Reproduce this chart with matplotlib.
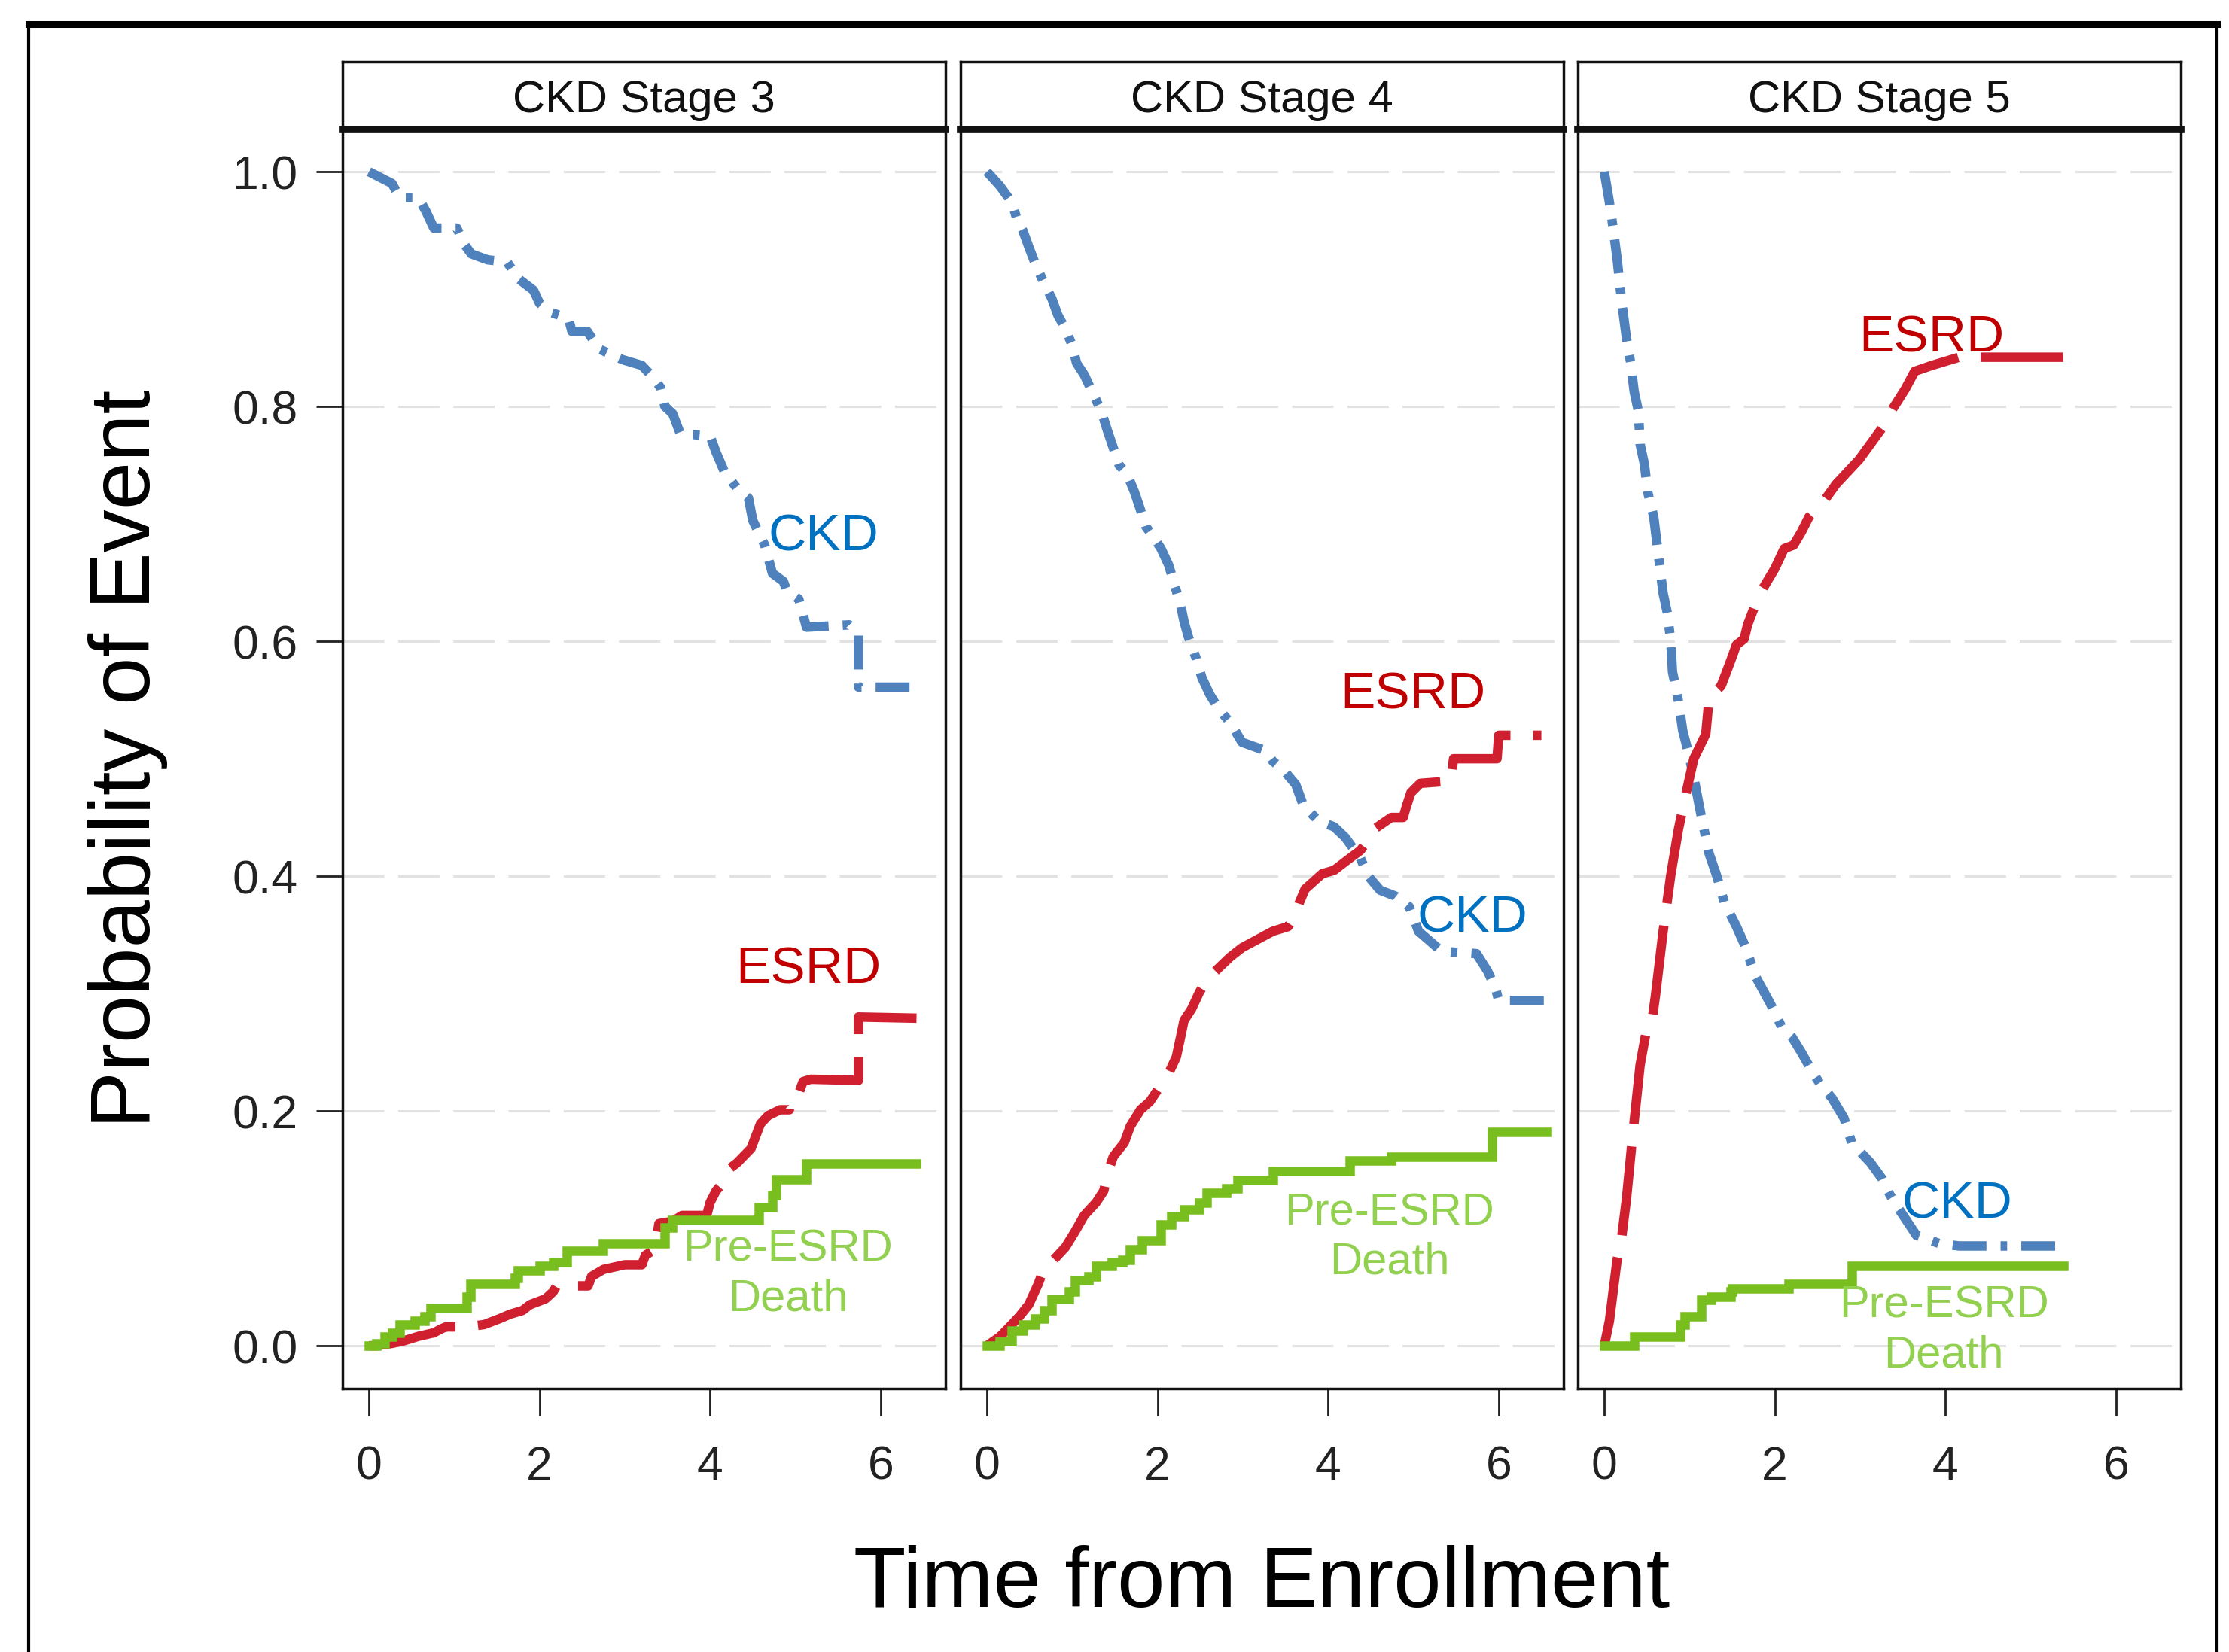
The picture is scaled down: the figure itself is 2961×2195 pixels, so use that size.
import matplotlib
matplotlib.use("Agg")
import matplotlib.pyplot as plt
from matplotlib.patches import Rectangle
from matplotlib.lines import Line2D

# ---- data ----
# CKD / ESRD curves: path vertices (drawn as polylines, the originals are dense steps)
# Pre-ESRD death curves: step points (drawn with steps-post)
stages = ["CKD Stage 3", "CKD Stage 4", "CKD Stage 5"]

stage3_ckd_t = [0, 0.27, 0.36, 0.58, 0.67, 0.76, 1.03, 1.12, 1.2, 1.39, 1.62, 1.75, 1.93, 2.0, 2.14,
                2.34, 2.38, 2.56, 2.7, 2.97, 3.2, 3.33, 3.42, 3.47, 3.56, 3.65, 4.0, 4.07, 4.17, 4.32,
                4.45, 4.5, 4.64, 4.73, 4.86, 4.9, 5.04, 5.13, 5.63, 5.74, 5.74, 6.42]
stage3_ckd_p = [1.0, 0.99, 0.978, 0.978, 0.966, 0.952, 0.952, 0.938, 0.93, 0.925, 0.923, 0.909, 0.899,
                0.888, 0.88, 0.875, 0.864, 0.864, 0.849, 0.84, 0.835, 0.825, 0.816, 0.80, 0.794, 0.777,
                0.775, 0.761, 0.744, 0.73, 0.722, 0.703, 0.682, 0.658, 0.651, 0.643, 0.636, 0.612,
                0.614, 0.605, 0.561, 0.561]
stage3_esrd_t = [0, 0.09, 0.27, 0.4, 0.58, 0.76, 0.85, 0.9, 1.12, 1.35, 1.53, 1.66, 1.8, 1.89, 2.07,
                 2.16, 2.2, 2.57, 2.61, 2.75, 3.0, 3.2, 3.24, 3.35, 3.4, 3.56, 3.67, 3.96, 4.0, 4.07,
                 4.19, 4.23, 4.32, 4.48, 4.59, 4.68, 4.82, 4.93, 4.95, 5.04, 5.09, 5.18, 5.74, 5.74, 6.42]
stage3_esrd_p = [0, 0.0, 0.002, 0.004, 0.008, 0.011, 0.0145, 0.016, 0.016, 0.018, 0.023, 0.027, 0.03,
                 0.035, 0.04, 0.046, 0.051, 0.051, 0.059, 0.065, 0.069, 0.069, 0.077, 0.082, 0.104,
                 0.106, 0.111, 0.111, 0.122, 0.132, 0.142, 0.151, 0.156, 0.168, 0.189, 0.196, 0.201,
                 0.201, 0.211, 0.215, 0.225, 0.227, 0.226, 0.28, 0.279]
stage3_death_t = [0, 0.09, 0.18, 0.27, 0.36, 0.54, 0.65, 0.72, 1.15, 1.19, 1.71, 1.75, 2.0, 2.16, 2.32,
                  2.74, 3.47, 3.56, 4.57, 4.73, 4.77, 5.13, 6.42]
stage3_death_p = [0, 0.002, 0.0076, 0.011, 0.018, 0.021, 0.025, 0.032, 0.042, 0.0525, 0.058, 0.064,
                  0.068, 0.0715, 0.081, 0.087, 0.101, 0.107, 0.118, 0.1285, 0.142, 0.155, 0.155]

stage4_ckd_t = [0, 0.15, 0.29, 0.35, 0.42, 0.49, 0.58, 0.67, 0.76, 0.83, 0.92, 1.0, 1.05, 1.14, 1.25,
                1.34, 1.41, 1.48, 1.55, 1.64, 1.73, 1.8, 1.86, 1.95, 2.04, 2.13, 2.2, 2.27, 2.31, 2.36,
                2.45, 2.52, 2.61, 2.72, 2.85, 2.99, 3.26, 3.35, 3.48, 3.62, 3.71, 3.89, 4.07, 4.2, 4.38,
                4.47, 4.61, 4.79, 4.95, 5.06, 5.33, 5.74, 5.87, 5.96, 6.0, 6.59]
stage4_ckd_p = [1.0, 0.988, 0.974, 0.96, 0.95, 0.936, 0.919, 0.905, 0.892, 0.878, 0.866, 0.852, 0.837,
                0.827, 0.81, 0.796, 0.78, 0.765, 0.75, 0.743, 0.727, 0.712, 0.698, 0.689, 0.679, 0.665,
                0.648, 0.631, 0.617, 0.604, 0.586, 0.569, 0.555, 0.542, 0.531, 0.514, 0.507, 0.498,
                0.49, 0.478, 0.46, 0.447, 0.442, 0.433, 0.415, 0.40, 0.388, 0.383, 0.374, 0.353, 0.336,
                0.334, 0.319, 0.305, 0.294, 0.294]
stage4_esrd_t = [0, 0.15, 0.29, 0.38, 0.49, 0.6, 0.67, 0.78, 0.92, 1.03, 1.14, 1.28, 1.37, 1.41, 1.48,
                 1.61, 1.68, 1.8, 1.91, 2.02, 2.13, 2.22, 2.27, 2.31, 2.4, 2.49, 2.58, 2.72, 2.85, 2.99,
                 3.17, 3.35, 3.53, 3.62, 3.66, 3.73, 3.93, 4.07, 4.16, 4.25, 4.38, 4.47, 4.54, 4.74,
                 4.88, 4.92, 4.97, 5.08, 5.44, 5.47, 5.98, 6.0, 6.5]
stage4_esrd_p = [0, 0.0076, 0.018, 0.025, 0.035, 0.0525, 0.066, 0.073, 0.084, 0.097, 0.111, 0.122,
                 0.132, 0.146, 0.161, 0.173, 0.187, 0.201, 0.208, 0.22, 0.232, 0.246, 0.263, 0.277,
                 0.287, 0.301, 0.312, 0.322, 0.331, 0.339, 0.346, 0.353, 0.357, 0.367, 0.377, 0.389,
                 0.402, 0.405, 0.41, 0.415, 0.422, 0.431, 0.44, 0.45, 0.45, 0.46, 0.471, 0.479, 0.481,
                 0.50, 0.50, 0.52, 0.52]
stage4_death_t = [0, 0.15, 0.29, 0.42, 0.56, 0.67, 0.76, 0.96, 1.03, 1.19, 1.28, 1.46, 1.59, 1.68,
                  1.82, 2.04, 2.16, 2.31, 2.49, 2.58, 2.81, 2.94, 3.35, 4.25, 4.74, 5.92, 6.57]
stage4_death_p = [0, 0.004, 0.013, 0.018, 0.023, 0.03, 0.04, 0.046, 0.056, 0.059, 0.068, 0.0715,
                  0.073, 0.082, 0.09, 0.103, 0.11, 0.116, 0.122, 0.13, 0.134, 0.141, 0.149, 0.158,
                  0.161, 0.182, 0.182]

stage5_ckd_t = [0, 0.06, 0.1, 0.15, 0.2, 0.26, 0.31, 0.35, 0.4, 0.42, 0.47, 0.51, 0.58, 0.62, 0.65,
                0.69, 0.74, 0.78, 0.8, 0.87, 0.92, 0.98, 1.05, 1.14, 1.23, 1.32, 1.41, 1.55, 1.66, 1.77,
                1.95, 2.09, 2.2, 2.31, 2.45, 2.54, 2.67, 2.81, 2.9, 3.12, 3.26, 3.35, 3.44, 3.66, 3.93,
                4.16, 5.38]
stage5_ckd_p = [1.0, 0.974, 0.954, 0.926, 0.892, 0.858, 0.837, 0.813, 0.796, 0.768, 0.751, 0.727,
                0.706, 0.682, 0.664, 0.641, 0.624, 0.60, 0.574, 0.549, 0.524, 0.507, 0.484, 0.45, 0.419,
                0.40, 0.377, 0.357, 0.339, 0.315, 0.291, 0.27, 0.263, 0.25, 0.232, 0.222, 0.211, 0.194,
                0.173, 0.156, 0.142, 0.1285, 0.118, 0.094, 0.087, 0.085, 0.085]
stage5_esrd_t = [0, 0.06, 0.15, 0.2, 0.26, 0.33, 0.42, 0.49, 0.56, 0.6, 0.69, 0.78, 0.87, 0.96, 1.05,
                 1.19, 1.23, 1.37, 1.48, 1.55, 1.64, 1.68, 1.77, 1.86, 2.0, 2.11, 2.22, 2.31, 2.4, 2.49,
                 2.58, 2.72, 2.81, 2.9, 2.99, 3.12, 3.26, 3.39, 3.53, 3.64, 3.84, 4.16, 5.38]
stage5_esrd_p = [0, 0.021, 0.073, 0.09, 0.125, 0.177, 0.239, 0.267, 0.277, 0.298, 0.353, 0.401, 0.44,
                 0.471, 0.50, 0.521, 0.552, 0.562, 0.583, 0.597, 0.602, 0.614, 0.631, 0.645, 0.662,
                 0.679, 0.682, 0.693, 0.706, 0.713, 0.72, 0.734, 0.741, 0.748, 0.755, 0.768, 0.782,
                 0.799, 0.815, 0.83, 0.835, 0.842, 0.842]
stage5_death_t = [0, 0.35, 0.89, 0.94, 1.14, 1.25, 1.48, 1.5, 2.16, 2.9, 5.38]
stage5_death_p = [0, 0.0076, 0.018, 0.025, 0.039, 0.042, 0.046, 0.049, 0.0525, 0.068, 0.068]

# label anchors (time, probability)
ckd_label_pos = [(5.33, 0.689), (5.69, 0.364), (4.14, 0.12)]
esrd_label_pos = [(5.15, 0.32), (4.99, 0.554), (3.84, 0.858)]
death_label_pos = [(4.91, 0.061), (4.72, 0.092), (3.98, 0.013)]

x_ticks = [0, 2, 4, 6]
y_ticks = [0.0, 0.2, 0.4, 0.6, 0.8, 1.0]

# ---- styling ----
plt.rcParams["font.family"] = ["Liberation Sans", "DejaVu Sans"]
W, H = 2961, 2195
fig = plt.figure(figsize=(W / 100, H / 100), dpi=100)

CKD_LINE, CKD_TEXT = "#4F81BD", "#0070C0"
ESRD_LINE, ESRD_TEXT = "#D01F2E", "#C00000"
DEATH_LINE, DEATH_TEXT = "#78BE1E", "#92D050"
LW = 9

panel_left = [455, 1276, 2096]
panel_w = 801
ax_top, ax_bot = 172, 1845
head_top = 82

curves = [
    (stage3_ckd_t, stage3_ckd_p, stage3_esrd_t, stage3_esrd_p, stage3_death_t, stage3_death_p),
    (stage4_ckd_t, stage4_ckd_p, stage4_esrd_t, stage4_esrd_p, stage4_death_t, stage4_death_p),
    (stage5_ckd_t, stage5_ckd_p, stage5_esrd_t, stage5_esrd_p, stage5_death_t, stage5_death_p),
]

for i, (stage, data) in enumerate(zip(stages, curves)):
    ckd_t, ckd_p, esrd_t, esrd_p, death_t, death_p = data
    left = panel_left[i] / W
    ax = fig.add_axes([left, 1 - ax_bot / H, panel_w / W, (ax_bot - ax_top) / H])

    ax.plot(ckd_t, ckd_p, color=CKD_LINE, lw=LW,
            linestyle=(0, (3.6, 1.5, 0.7, 1.5)), zorder=3)
    ax.plot(esrd_t, esrd_p, color=ESRD_LINE, lw=LW,
            linestyle=(0, (9.5, 2.4)), zorder=3)
    ax.plot(death_t, death_p, drawstyle="steps-post", color=DEATH_LINE, lw=LW,
            solid_joinstyle="miter", zorder=3)

    ax.text(*ckd_label_pos[i], "CKD", color=CKD_TEXT, fontsize=50,
            ha="center", va="center", zorder=4)
    ax.text(*esrd_label_pos[i], "ESRD", color=ESRD_TEXT, fontsize=50,
            ha="center", va="center", zorder=4)
    ax.text(*death_label_pos[i], "Pre-ESRD\nDeath", color=DEATH_TEXT, fontsize=43,
            ha="center", va="center", multialignment="center", linespacing=1.25, zorder=4)

    ax.set_xlim(-0.31, 6.76)
    ax.set_ylim(-0.0365, 1.036)
    ax.set_xticks(x_ticks)
    ax.set_yticks(y_ticks)
    ax.set_xticklabels([str(t) for t in x_ticks])
    ax.set_yticklabels([f"{v:.1f}" for v in y_ticks])
    ax.yaxis.grid(True, color="#e2e2e2", lw=2.2, linestyle=(0, (18, 6)), zorder=0)
    ax.set_axisbelow(True)
    ax.tick_params(axis="x", direction="out", length=26, width=2, pad=28,
                   labelsize=45, colors="#222222")
    ax.tick_params(axis="y", direction="out", length=25, width=2, pad=18,
                   labelsize=45, colors="#222222")
    if i > 0:
        ax.tick_params(axis="y", left=False, labelleft=False)
    for sp in ax.spines.values():
        sp.set_linewidth(2.5)
        sp.set_color("#111111")

    # facet header strip
    hax = fig.add_axes([left, 1 - ax_top / H, panel_w / W, (ax_top - head_top) / H])
    hax.set_xticks([])
    hax.set_yticks([])
    for sp in hax.spines.values():
        sp.set_linewidth(2.5)
        sp.set_color("#111111")
    hax.spines["bottom"].set_linewidth(7)
    hax.text(0.5, 0.43, stage, ha="center", va="center", fontsize=43,
             color="#111111", transform=hax.transAxes)

fig.text(170 / W, 1 - 1008 / H, "Probability of Event", rotation=90,
         ha="center", va="center", fontsize=82)
fig.text(1676 / W, 1 - 2106 / H, "Time from Enrollment",
         ha="center", va="center", fontsize=82)

# outer frame of the original figure
fig.patches.append(Rectangle((38 / W, -0.05), (2945 - 38) / W, 1.05 - 32 / H,
                             transform=fig.transFigure, fill=False, lw=3,
                             edgecolor="black", clip_on=False))
fig.lines.append(Line2D([38 / W, 2945 / W], [1 - 32 / H, 1 - 32 / H],
                        transform=fig.transFigure, color="black", lw=6.5))

fig.savefig("out.png", dpi=100)
